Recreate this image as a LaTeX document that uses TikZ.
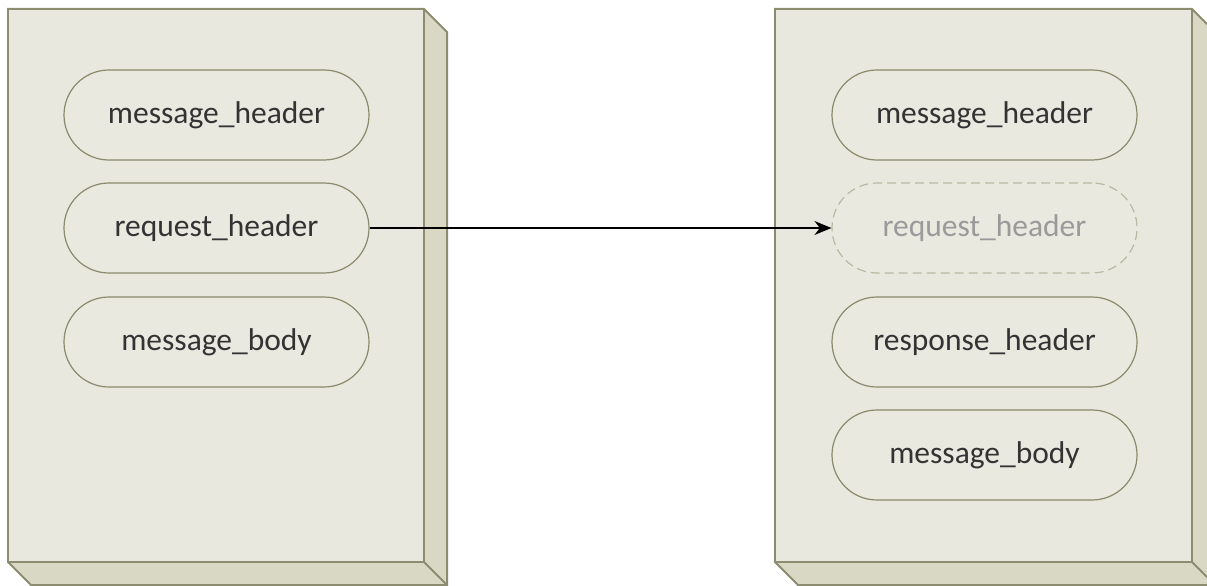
\documentclass[tikz,border=0pt]{standalone}
\usepackage{fontspec}
\setmainfont{Carlito}
\usetikzlibrary{arrows.meta}

\definecolor{facefront}{HTML}{E8E8DF}
\definecolor{faceside}{HTML}{D8D8C4}
\definecolor{edgeolive}{HTML}{8C8C70}
\definecolor{pillfill}{HTML}{E9E9E0}
\definecolor{pilledge}{HTML}{8A8A6C}
\definecolor{ghostedge}{HTML}{B9B9A2}
\definecolor{ghosttext}{HTML}{9A9A9A}
\definecolor{labeltext}{HTML}{333333}

\begin{document}
\begin{tikzpicture}[
    x=1pt,
    y=-1pt,
    box/.style={
      draw=edgeolive,
      line width=2pt,
      fill=facefront,
      minimum width=416pt,
      minimum height=553pt,
      inner sep=0pt
    },
    sides/.style={
      draw=edgeolive,
      line width=2pt,
      fill=faceside,
      line join=miter
    },
    pill/.style={
      draw=pilledge,
      line width=1.2pt,
      fill=pillfill,
      rounded corners=45pt,
      minimum width=305pt,
      minimum height=90pt,
      inner sep=0pt,
      text=labeltext,
      font=\fontsize{31.5}{36}\selectfont
    },
    ghost/.style={
      pill,
      draw=ghostedge,
      dashed,
      dash pattern=on 9pt off 5pt,
      text=ghosttext
    }
  ]
    \useasboundingbox (0, 0) rectangle (1207, 586);
    \clip (0, 0) rectangle (1207, 586);

    % left box
    \draw[sides] (8, 9) -- (424, 9) -- (447, 32) -- (447, 585)
      -- (31, 585) -- (8, 562) -- cycle;
    \draw[edgeolive, line width=2pt] (424, 562) -- (447, 585);
    \node[box] (left_box) at (216, 285.5) {};

    % right box
    \draw[sides] (775, 9) -- (1192, 9) -- (1215, 32) -- (1215, 585)
      -- (798, 585) -- (775, 562) -- cycle;
    \draw[edgeolive, line width=2pt] (1192, 562) -- (1215, 585);
    \node[box, minimum width=417pt] (right_box) at (983.5, 285.5) {};

    \node[pill] (left_msg_header) at (216.5, 115) {message\_header};
    \node[pill] (left_req_header) at (216.5, 228) {request\_header};
    \node[pill] (left_msg_body) at (216.5, 342) {message\_body};

    \node[pill] (right_msg_header) at (984.5, 115) {message\_header};
    \node[ghost] (right_req_header) at (984.5, 228) {request\_header};
    \node[pill] (right_resp_header) at (984.5, 342) {response\_header};
    \node[pill] (right_msg_body) at (984.5, 455) {message\_body};

    \draw[-{Stealth[length=17pt, width=14pt]}, line width=1.6pt]
      (left_req_header) to (right_req_header);

  \end{tikzpicture}
\end{document}
